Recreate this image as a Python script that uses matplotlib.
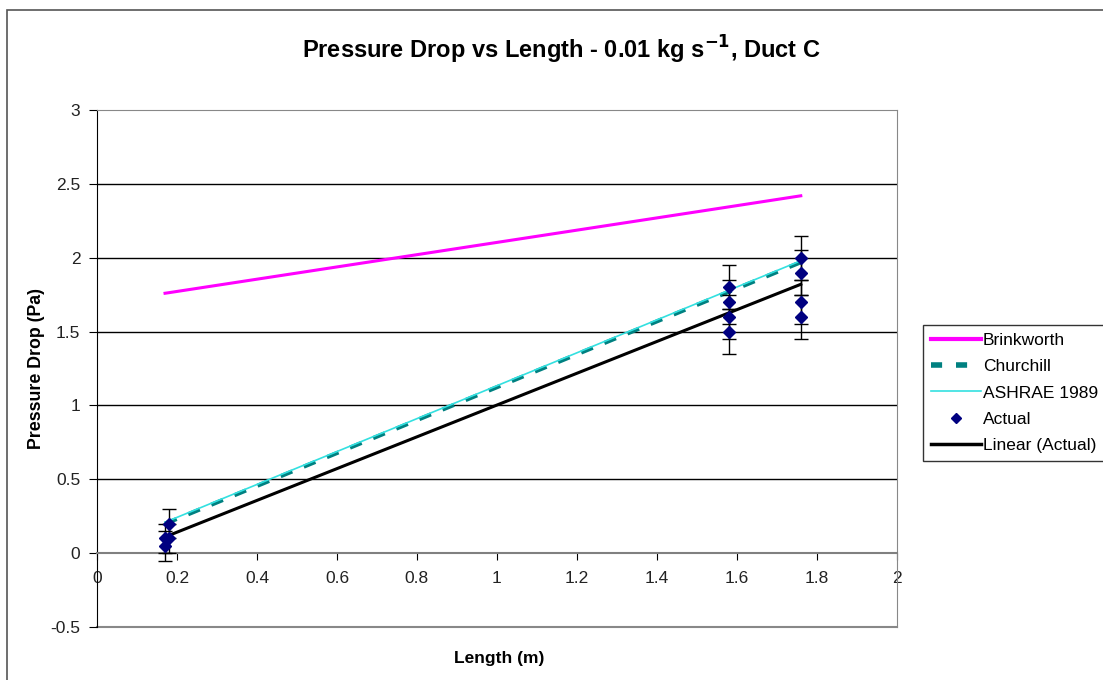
import numpy as np
import matplotlib.pyplot as plt
from matplotlib.lines import Line2D
from matplotlib.patches import Rectangle

plt.rcParams['font.family'] = ['Liberation Sans', 'DejaVu Sans']

# measured points
actual_x = [0.17, 0.17, 0.18, 0.18, 1.58, 1.58, 1.58, 1.58, 1.76, 1.76, 1.76, 1.76]
actual_y = [0.05, 0.10, 0.10, 0.20, 1.80, 1.70, 1.60, 1.50, 2.00, 1.90, 1.70, 1.60]
actual_err = [0.10, 0.10, 0.10, 0.10, 0.15, 0.15, 0.15, 0.15, 0.15, 0.15, 0.15, 0.15]

# model predictions
model_x = [0.17, 0.18, 1.58, 1.76]
brinkworth = [1.76, 1.764, 2.345, 2.42]
churchill = [0.20, 0.21, 1.77, 1.97]
ashrae = [0.21, 0.22, 1.78, 1.98]

fig = plt.figure(figsize=(11.03, 6.8), dpi=100)
ax = fig.add_axes([0.088, 0.078, 0.725, 0.76])

# chart border
fig.patches.append(Rectangle((0.0065, -0.1), 1.2, 1.085, transform=fig.transFigure,
                             fill=False, edgecolor='#555555', lw=1.2))

ax.plot(model_x, brinkworth, color='#ff00ff', lw=2.2, zorder=3)
ax.plot(model_x, churchill, color='#008080', lw=3, ls=(0, (3, 3)), zorder=3)
ax.plot(model_x, ashrae, color='#33e0e0', lw=1.2, zorder=4)

ax.errorbar(actual_x, actual_y, yerr=actual_err, fmt='none', ecolor='black',
            elinewidth=1, capsize=5, capthick=1, zorder=5)
ax.plot(actual_x, actual_y, 'D', color='#000080', ms=6, ls='none', zorder=6)

# linear trendline of the measurements
k, b = np.polyfit(actual_x, actual_y, 1)
xs = np.array([min(actual_x), max(actual_x)])
ax.plot(xs, k * xs + b, color='black', lw=2.2, zorder=4)

ax.set_xlim(0, 2)
ax.set_ylim(-0.5, 3)
ax.set_yticks(np.arange(-0.5, 3.01, 0.5))
ax.set_yticklabels(['-0.5', '0', '0.5', '1', '1.5', '2', '2.5', '3'])
ax.set_xticks(np.arange(0, 2.01, 0.2))
ax.set_xticklabels(['0', '0.2', '0.4', '0.6', '0.8', '1', '1.2', '1.4', '1.6', '1.8', '2'])

for yv in [0.5, 1, 1.5, 2, 2.5]:
    ax.axhline(yv, color='black', lw=1, zorder=1)
# plot area bottom border
ax.axhline(-0.5, color='#888888', lw=1.5, zorder=1, clip_on=False)

# x axis crosses at y = 0
ax.spines['bottom'].set_position(('data', 0))
ax.spines['bottom'].set_color('#808080')
ax.spines['bottom'].set_linewidth(1.5)
ax.spines['left'].set_color('black')
for s in ['top', 'right']:
    ax.spines[s].set_color('#888888')

ax.tick_params(axis='y', direction='out', length=6, colors='black', labelsize=12.5, pad=6)
ax.tick_params(axis='x', direction='out', length=5, colors='black', labelsize=12.5, pad=8)
for t in ax.get_yticklabels() + ax.get_xticklabels():
    t.set_color('#222222')

fig.text(0.453, 0.032, 'Length (m)', ha='center', va='center', fontsize=12.5,
         fontweight='bold')
ax.set_ylabel('Pressure Drop (Pa)', fontsize=12.8, fontweight='bold', labelpad=4)
fig.text(0.509, 0.926, 'Pressure Drop vs Length - 0.01 kg s$^{\\mathbf{-1}}$, Duct C',
         ha='center', va='center', fontsize=17, fontweight='bold')

handles = [
    Line2D([], [], color='#ff00ff', lw=3),
    Line2D([], [], color='#008080', lw=4, ls=(0, (2, 2.5))),
    Line2D([], [], color='#33e0e0', lw=1.2),
    Line2D([], [], marker='D', color='#000080', ls='none', ms=5),
    Line2D([], [], color='black', lw=2.5),
]
labels = ['Brinkworth', 'Churchill', 'ASHRAE 1989', 'Actual', 'Linear (Actual)']
leg = fig.legend(handles, labels, loc='upper left', bbox_to_anchor=(0.837, 0.522),
                 fontsize=12.5, frameon=True, fancybox=False, edgecolor='black',
                 handlelength=2.9, handletextpad=0.1, borderpad=0.45, labelspacing=0.64,
                 borderaxespad=0)
leg.get_frame().set_linewidth(1)

fig.savefig('out.png', dpi=100)
